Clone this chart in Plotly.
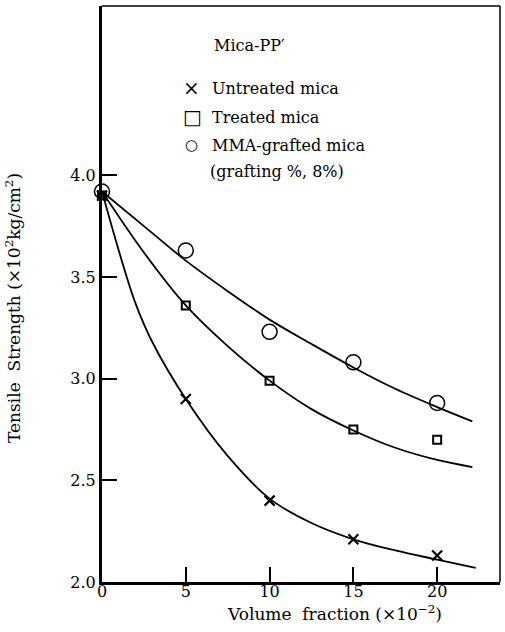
import plotly.graph_objects as go

# ---- data ----
vol_pts = [0, 5, 10, 15, 20]
untreated_pts = [3.90, 2.90, 2.40, 2.21, 2.13]
treated_pts = [3.90, 3.36, 2.99, 2.75, 2.70]
mma_pts = [3.92, 3.63, 3.23, 3.08, 2.88]

untreated_curve_x = [0, 1, 2, 3, 5, 7.5, 10, 12.5, 15, 17.5, 20, 22.3]
untreated_curve_y = [3.92, 3.63, 3.37, 3.18, 2.90, 2.62, 2.41, 2.29, 2.21, 2.155, 2.11, 2.07]
treated_curve_x = [0, 2.5, 5, 7.5, 10, 12.5, 15, 17.5, 20, 22.1]
treated_curve_y = [3.92, 3.62, 3.36, 3.16, 2.99, 2.85, 2.745, 2.66, 2.60, 2.565]
mma_curve_x = [0, 2.5, 5, 7.5, 10, 12.5, 15, 17.5, 20, 22.1]
mma_curve_y = [3.92, 3.75, 3.58, 3.43, 3.29, 3.17, 3.055, 2.95, 2.86, 2.79]

x_ticks = [0, 5, 10, 15, 20]
y_ticks = [2.0, 2.5, 3.0, 3.5, 4.0]

FONT = "DejaVu Serif"
BLACK = "#000000"

fig = go.Figure()

for cx, cy in [(untreated_curve_x, untreated_curve_y),
               (treated_curve_x, treated_curve_y),
               (mma_curve_x, mma_curve_y)]:
    fig.add_trace(go.Scatter(x=cx, y=cy, mode="lines",
                             line=dict(color=BLACK, width=1.8, shape="spline"),
                             showlegend=False, hoverinfo="skip"))

fig.add_trace(go.Scatter(x=vol_pts, y=untreated_pts, mode="markers", name="Untreated mica",
                         marker=dict(symbol="x-thin-open", size=10, color=BLACK,
                                     line=dict(color=BLACK, width=2.2)),
                         cliponaxis=False, showlegend=False))
fig.add_trace(go.Scatter(x=vol_pts, y=treated_pts, mode="markers", name="Treated mica",
                         marker=dict(symbol="square-open", size=8, color=BLACK,
                                     line=dict(color=BLACK, width=2)),
                         cliponaxis=False, showlegend=False))
fig.add_trace(go.Scatter(x=vol_pts, y=mma_pts, mode="markers", name="MMA-grafted mica",
                         marker=dict(symbol="circle-open", size=15, color=BLACK,
                                     line=dict(color=BLACK, width=1.5)),
                         cliponaxis=False, showlegend=False))

L, R, T, B = 102, 5, 6, 50
W, H = 505, 632
pw, ph = W - L - R, H - T - B


def px2paper(px, py):
    return (px - L) / pw, (H - B - py) / ph


annots = []


def add_text(px, py, txt, size=16, anchor="left", angle=0):
    xp, yp = px2paper(px, py)
    annots.append(dict(x=xp, y=yp, xref="paper", yref="paper", text=txt,
                       showarrow=False, xanchor=anchor, yanchor="middle",
                       textangle=angle,
                       font=dict(family=FONT, size=size, color=BLACK)))


add_text(212, 45, "Mica-PP′")
add_text(191, 88, "×", size=20, anchor="center")
add_text(210, 88, "Untreated mica")
add_text(192, 117, "□", size=20, anchor="center")
add_text(210, 117, "Treated mica")
add_text(191, 145, "○", size=15, anchor="center")
add_text(210, 145, "MMA-grafted mica")
add_text(208, 171, "(grafting %, 8%)")

add_text(13, 308, "Tensile  Strength (×10<sup>2</sup>kg/cm<sup>2</sup>)",
         size=17, anchor="center", angle=-90)
add_text(334, 613, "Volume  fraction (×10<sup>−2</sup>)", size=17, anchor="center")

fig.update_layout(
    width=W, height=H,
    margin=dict(l=L, r=R, t=T, b=B),
    plot_bgcolor="white", paper_bgcolor="white",
    font=dict(family=FONT, size=17, color=BLACK),
    annotations=annots,
    shapes=[
        dict(type="line", xref="paper", yref="paper", x0=0, x1=1, y0=1, y1=1,
             line=dict(color=BLACK, width=1.5)),
        dict(type="line", xref="paper", yref="paper", x0=1, x1=1, y0=0, y1=1,
             line=dict(color=BLACK, width=1.5)),
    ],
)
fig.update_xaxes(range=[0, 23.75], tickvals=x_ticks, ticktext=[str(v) for v in x_ticks],
                 ticks="inside", ticklen=15, tickwidth=2, tickcolor=BLACK,
                 ticklabelstandoff=-7,
                 showline=True, linewidth=3, linecolor=BLACK, showgrid=False,
                 zeroline=False, tickfont=dict(family=FONT, size=16, color=BLACK))
fig.update_yaxes(range=[2.0, 4.832], tickvals=y_ticks, ticktext=[f"{v:.1f}" for v in y_ticks],
                 ticks="inside", ticklen=15, tickwidth=2, tickcolor=BLACK,
                 showline=True, linewidth=3, linecolor=BLACK, showgrid=False,
                 zeroline=False, tickfont=dict(family=FONT, size=16, color=BLACK))

fig.write_html("out.html")
